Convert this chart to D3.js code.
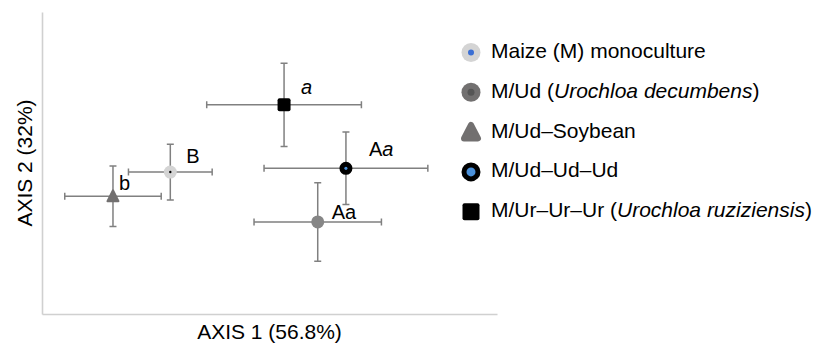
<!DOCTYPE html>
<html>
<head>
<meta charset="utf-8">
<script src="https://cdn.jsdelivr.net/npm/d3@7"></script>
<style>
  body { margin: 0; background: #fff; }
  text { font-family: "Liberation Sans", Arial, sans-serif; fill: #000; }
</style>
</head>
<body>
<div id="chart"></div>
<script>
// treatments (legend order)
const treatments = ["Maize (M) monoculture", "M/Ud (Urochloa decumbens)", "M/Ud–Soybean", "M/Ud–Ud–Ud", "M/Ur–Ur–Ur (Urochloa ruziziensis)"];
// ordination scores and standard deviations
const axis1 = [-1.09, 0.53, -1.72, 0.84, 0.16];
const axis1Sd = [0.46, 0.70, 0.53, 0.90, 0.85];
const axis2 = [-0.12, -0.78, -0.44, -0.07, 0.77];
const axis2Sd = [0.37, 0.52, 0.40, 0.48, 0.55];
// letters of significance
const letters = [["B"], ["Aa"], ["b"], ["A", "a"], ["", "a"]];
const axisTitles = ["AXIS 1 (56.8%)", "AXIS 2 (32%)"];

const W = 816, H = 344;
const plot = {left: 42, right: 497, top: 12, bottom: 314};

const svg = d3.select("#chart").append("svg")
    .attr("width", W)
    .attr("height", H);

const x = d3.scaleLinear().domain([-2.5, 2.5]).range([plot.left, plot.right]);
const y = d3.scaleLinear().domain([-2, 2]).range([plot.bottom, plot.top]);

// axis frame (no ticks)
svg.append("g")
    .attr("transform", `translate(0,${plot.bottom})`)
    .call(d3.axisBottom(x).ticks(0).tickSize(0))
    .call(g => g.select(".domain").attr("stroke", "#d0d0d0").attr("stroke-width", 1.6));
svg.append("g")
    .attr("transform", `translate(${plot.left},0)`)
    .call(d3.axisLeft(y).ticks(0).tickSize(0))
    .call(g => g.select(".domain").attr("stroke", "#d0d0d0").attr("stroke-width", 1.6));

svg.append("text")
    .attr("x", (plot.left + plot.right) / 2)
    .attr("y", 339)
    .attr("text-anchor", "middle")
    .style("font-size", "21px")
    .text(axisTitles[0]);
svg.append("text")
    .attr("transform", `translate(32,${(plot.top + plot.bottom) / 2}) rotate(-90)`)
    .attr("text-anchor", "middle")
    .style("font-size", "21px")
    .text(axisTitles[1]);

const data = treatments.map((t, i) => ({
    name: t, x: axis1[i], xsd: axis1Sd[i], y: axis2[i], ysd: axis2Sd[i], letter: letters[i]
}));

// error bars
const barColor = "#808080";
const cap = 3.5;
const bars = svg.append("g").attr("stroke", barColor).attr("stroke-width", 1.5).attr("fill", "none");
data.forEach(d => {
    const cx = x(d.x), cy = y(d.y);
    const x0 = x(d.x - d.xsd), x1 = x(d.x + d.xsd);
    const y0 = y(d.y - d.ysd), y1 = y(d.y + d.ysd);
    bars.append("path").attr("d",
        `M${x0},${cy}H${x1}M${x0},${cy - cap}V${cy + cap}M${x1},${cy - cap}V${cy + cap}` +
        `M${cx},${y0}V${y1}M${cx - cap},${y0}H${cx + cap}M${cx - cap},${y1}H${cx + cap}`);
});

// marker drawing
function drawMarker(g, i, s, legend) {
    // s = marker size in px
    if (i === 0) {
        g.append("circle").attr("r", s / 2).attr("fill", "#d4d4d4");
        g.append("circle").attr("r", legend ? 3 : 1.2).attr("fill", legend ? "#3b6fd4" : "#000");
    } else if (i === 1) {
        g.append("circle").attr("r", s / 2).attr("fill", legend ? "#727070" : "#868686");
        if (legend) g.append("circle").attr("r", 3.5).attr("fill", "#555");
    } else if (i === 2) {
        const w = legend ? s - 5 : s - 2, h = w * 0.9;
        g.append("path")
            .attr("d", `M0,${-h / 2 - 1}L${w / 2},${h / 2}L${-w / 2},${h / 2}Z`)
            .attr("fill", "#727070")
            .attr("stroke", "#727070")
            .attr("stroke-width", legend ? 6 : 2)
            .attr("stroke-linejoin", "round");
    } else if (i === 3) {
        g.append("circle").attr("r", legend ? s / 2 - 2.5 : s / 2 - 2.5).attr("fill", "#4a90d9")
            .attr("stroke", "#000").attr("stroke-width", legend ? 5 : 5);
        if (!legend) g.append("circle").attr("r", 1.3).attr("fill", "#4a90d9");
    } else {
        g.append("rect")
            .attr("x", -s / 2).attr("y", -s / 2)
            .attr("width", s).attr("height", s)
            .attr("rx", 2).attr("fill", "#000");
    }
}

const marks = svg.append("g");
data.forEach((d, i) => {
    const g = marks.append("g").attr("transform", `translate(${x(d.x)},${y(d.y)})`);
    drawMarker(g, i, 13, false);
});

// significance letters
const labelOffsets = [[16, -9], [14, -3], [6, -6], [23, -12], [17, -11]];
data.forEach((d, i) => {
    const t = svg.append("text")
        .attr("x", x(d.x) + labelOffsets[i][0])
        .attr("y", y(d.y) + labelOffsets[i][1])
        .style("font-size", "20px");
    t.append("tspan").text(d.letter[0]);
    if (d.letter[1]) t.append("tspan").style("font-style", "italic").text(d.letter[1]);
});

// legend
const legend = svg.append("g").attr("transform", "translate(471,52.5)");
const rowH = 39.8;
treatments.forEach((t, i) => {
    const g = legend.append("g").attr("transform", `translate(0,${i * rowH})`);
    drawMarker(g, i, i === 4 ? 17 : 19, true);
    const txt = g.append("text")
        .attr("x", 20)
        .attr("y", 5.5)
        .style("font-size", "21px");
    const m = t.match(/^(.*\()(.*)(\))$/);
    if (m && i !== 0) {
        txt.append("tspan").text(m[1]);
        txt.append("tspan").style("font-style", "italic").text(m[2]);
        txt.append("tspan").text(m[3]);
    } else {
        txt.text(t);
    }
});
</script>
</body>
</html>
